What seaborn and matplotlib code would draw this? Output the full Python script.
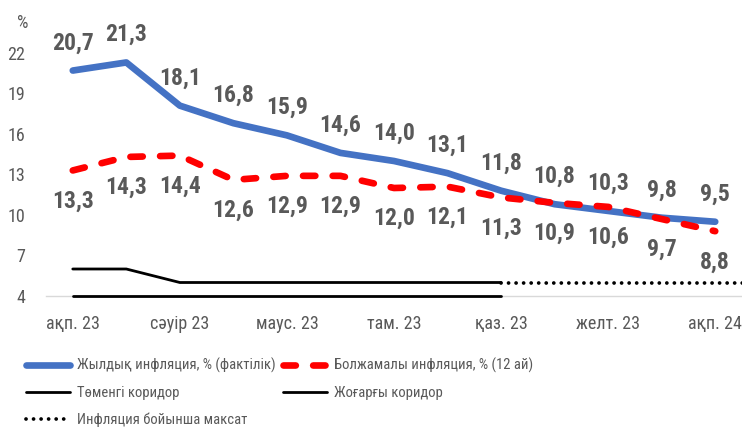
import numpy as np
import pandas as pd
import seaborn as sns
import matplotlib
matplotlib.use("Agg")
import matplotlib.pyplot as plt
import matplotlib.font_manager as fm

months = ["ақп. 23", "нау. 23", "сәуір 23", "мам. 23", "маус. 23", "шілде 23", "там. 23",
          "қыр. 23", "қаз. 23", "қар. 23", "желт. 23", "қаң. 24", "ақп. 24", "нау. 24"]
actual = [20.7, 21.3, 18.1, 16.8, 15.9, 14.6, 14.0, 13.1, 11.8, 10.8, 10.3, 9.8, 9.5, np.nan]
forecast = [13.3, 14.3, 14.4, 12.6, 12.9, 12.9, 12.0, 12.1, 11.3, 10.9, 10.6, 9.7, 8.8, np.nan]
lower = [4, 4, 4, 4, 4, 4, 4, 4, 4, np.nan, np.nan, np.nan, np.nan, np.nan]
upper = [6, 6, 5, 5, 5, 5, 5, 5, 5, np.nan, np.nan, np.nan, np.nan, np.nan]
target = [np.nan] * 8 + [5, 5, 5, 5, 5, 5]

names_ = {
    "actual": "Жылдық инфляция, % (фактілік)",
    "forecast": "Болжамалы инфляция, % (12 ай)",
    "lower": "Төменгі коридор",
    "upper": "Жоғарғы коридор",
    "target": "Инфляция бойынша максат",
}

sns.set_style("white")
installed = {f.name for f in fm.fontManager.ttflist}
base = "Roboto"
for cand in ["Roboto Condensed", "Fira Sans Condensed", "PT Sans Narrow", "IBM Plex Sans Condensed"]:
    if cand in installed:
        base = cand
        break
plt.rcParams["font.family"] = [base, "DejaVu Sans"]

df = pd.DataFrame({"idx": np.arange(len(months)), "actual": actual, "forecast": forecast,
                   "lower": lower, "upper": upper, "target": target})

fig = plt.figure(figsize=(7.42, 4.28), dpi=100)
ax = fig.add_axes([46 / 742, 1 - 296 / 428, 1 - 46 / 742, (296 - 26) / 428])

gray = "#595959"

sns.lineplot(data=df, x="idx", y="lower", ax=ax, color="black", lw=2.0, zorder=5, clip_on=False)
l_lower = ax.lines[-1]
sns.lineplot(data=df, x="idx", y="upper", ax=ax, color="black", lw=2.0, zorder=2)
l_upper = ax.lines[-1]
sns.lineplot(data=df, x="idx", y="target", ax=ax, color="black", lw=2.7, zorder=2,
             linestyle=(0, (0.01, 2.0)), dash_capstyle="round")
l_target = ax.lines[-1]
sns.lineplot(data=df, x="idx", y="actual", ax=ax, color="#4472C4", lw=4.8, zorder=3,
             solid_capstyle="round", solid_joinstyle="round")
l_actual = ax.lines[-1]
sns.lineplot(data=df, x="idx", y="forecast", ax=ax, color="#FF0000", lw=4.8, zorder=4,
             linestyle=(0, (1.85, 2.6)), dash_capstyle="round")
l_forecast = ax.lines[-1]

for i, v in enumerate(actual):
    if not np.isnan(v):
        ax.annotate(f"{v:.1f}".replace(".", ","), (i, v), xytext=(0, 20), textcoords="offset points",
                    ha="center", va="center", fontsize=17, fontweight="bold", color=gray)
for i, v in enumerate(forecast):
    if not np.isnan(v):
        ax.annotate(f"{v:.1f}".replace(".", ","), (i, v), xytext=(0, -22), textcoords="offset points",
                    ha="center", va="center", fontsize=17, fontweight="bold", color=gray)

ax.set_xlim(-0.5, 12.45)
ax.set_ylim(4, 24)
ax.set_yticks([4, 7, 10, 13, 16, 19, 22])
ax.set_xticks(np.arange(0, 13, 2))
ax.set_xticklabels(months[0:13:2])
ax.set_xticks(np.arange(-0.5, 13, 1), minor=True)
ax.tick_params(axis="y", length=0, pad=15, labelsize=13, labelcolor=gray)
ax.tick_params(axis="x", which="major", length=0, pad=14, labelsize=13, labelcolor=gray)
ax.tick_params(axis="x", which="minor", length=4.5, width=1, color="#D9D9D9", direction="out")
ax.set_xlabel("")
ax.set_ylabel("")
for s in ["left", "right", "top"]:
    ax.spines[s].set_visible(False)
ax.spines["bottom"].set_color("#D9D9D9")
ax.spines["bottom"].set_linewidth(1)
ax.grid(False)

fig.text(17 / 742, 1 - 23 / 428, "%", fontsize=13, color=gray, va="center", ha="left")

leg_kw = dict(frameon=False, fontsize=10.5, handlelength=3.0, handletextpad=0.5,
              labelspacing=0.85, borderpad=0, borderaxespad=0, loc="upper left", labelcolor=gray)
fig.legend([l_actual, l_lower, l_target], [names_["actual"], names_["lower"], names_["target"]],
           bbox_to_anchor=(26 / 742, 1 - 358 / 428), **leg_kw)
fig.legend([l_forecast, l_upper], [names_["forecast"], names_["upper"]],
           bbox_to_anchor=(283 / 742, 1 - 358 / 428), **leg_kw)

fig.savefig("out.png", dpi=100)
